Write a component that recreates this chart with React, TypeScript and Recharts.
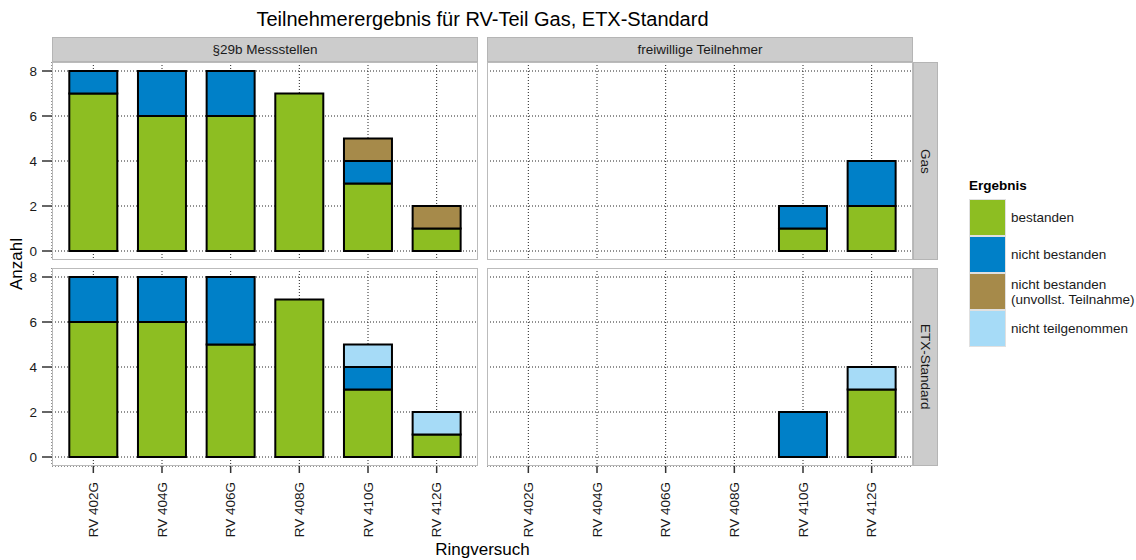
import { Bar, BarChart, CartesianGrid, XAxis, YAxis } from "recharts";

const categories = ["RV 402G", "RV 404G", "RV 406G", "RV 408G", "RV 410G", "RV 412G"];
const yTicks = [0, 2, 4, 6, 8];

// Gas, §29b Messstellen
const gasPflichtBestanden = [7, 6, 6, 7, 3, 1];
const gasPflichtNichtBestanden = [1, 2, 2, 0, 1, 0];
const gasPflichtUnvollst = [0, 0, 0, 0, 1, 1];
const gasPflichtNichtTeil = [0, 0, 0, 0, 0, 0];

// Gas, freiwillige Teilnehmer
const gasFreiBestanden = [0, 0, 0, 0, 1, 2];
const gasFreiNichtBestanden = [0, 0, 0, 0, 1, 2];
const gasFreiUnvollst = [0, 0, 0, 0, 0, 0];
const gasFreiNichtTeil = [0, 0, 0, 0, 0, 0];

// ETX-Standard, §29b Messstellen
const etxPflichtBestanden = [6, 6, 5, 7, 3, 1];
const etxPflichtNichtBestanden = [2, 2, 3, 0, 1, 0];
const etxPflichtUnvollst = [0, 0, 0, 0, 0, 0];
const etxPflichtNichtTeil = [0, 0, 0, 0, 1, 1];

// ETX-Standard, freiwillige Teilnehmer
const etxFreiBestanden = [0, 0, 0, 0, 0, 3];
const etxFreiNichtBestanden = [0, 0, 0, 0, 2, 0];
const etxFreiUnvollst = [0, 0, 0, 0, 0, 0];
const etxFreiNichtTeil = [0, 0, 0, 0, 0, 1];

const series = [
  { key: "bestanden", label: "bestanden", color: "#8DBE22" },
  { key: "nichtBestanden", label: "nicht bestanden", color: "#0080C8" },
  { key: "unvollst", label: "nicht bestanden\n(unvollst. Teilnahme)", color: "#A68A4A" },
  { key: "nichtTeil", label: "nicht teilgenommen", color: "#A6DBF7" },
];

const build = (a: number[], b: number[], c: number[], d: number[]) =>
  categories.map((name, i) => ({
    name,
    bestanden: a[i],
    nichtBestanden: b[i],
    unvollst: c[i],
    nichtTeil: d[i],
  }));

const FONT = "'Liberation Sans', Arial, Helvetica, sans-serif";
const PANEL_W = 426;
const PANEL_H = 198;
const COL_X = [52, 487];
const ROW_Y = [62, 268];
const Y_AXIS_W = 52;
const X_AXIS_H = 90;

const XTick = (props: any) => {
  const { x, y, payload } = props;
  return (
    <text
      x={x}
      y={y}
      transform={`rotate(-90, ${x}, ${y})`}
      textAnchor="end"
      dy="0.35em"
      fontSize={13.5}
      fill="#1a1a1a"
      fontFamily={FONT}
    >
      {payload.value}
    </text>
  );
};

type PanelProps = {
  data: ReturnType<typeof build>;
  col: number;
  row: number;
};

const Panel = ({ data, col, row }: PanelProps) => {
  const showY = col === 0;
  const showX = row === 1;
  const left = showY ? COL_X[0] - Y_AXIS_W : COL_X[1];
  const width = PANEL_W + (showY ? Y_AXIS_W : 0);
  const height = PANEL_H + (showX ? X_AXIS_H : 0);
  return (
    <div style={{ position: "absolute", left, top: ROW_Y[row] }}>
      <BarChart
        width={width}
        height={height}
        data={data}
        margin={{ top: 0, right: 0, bottom: 0, left: 0 }}
        barCategoryGap="15%"
      >
        <CartesianGrid stroke="#222" strokeDasharray="1 2" strokeWidth={1} />
        <XAxis
          dataKey="name"
          hide={!showX}
          height={showX ? X_AXIS_H : 0}
          padding={{ left: 7, right: 7 }}
          axisLine={false}
          tickLine={{ stroke: "#333", strokeWidth: 1.5 }}
          tickSize={7}
          tickMargin={9}
          tick={<XTick />}
          interval={0}
        />
        <YAxis
          hide={!showY}
          width={Y_AXIS_W}
          type="number"
          domain={[-0.4, 8.4]}
          ticks={yTicks}
          allowDataOverflow
          axisLine={false}
          tickLine={{ stroke: "#333", strokeWidth: 1.5 }}
          tickSize={10}
          tickMargin={5}
          tick={{ fontSize: 13.5, fill: "#1a1a1a", fontFamily: FONT }}
        />
        {series.map((s) => (
          <Bar
            key={s.key}
            dataKey={s.key}
            stackId="a"
            fill={s.color}
            stroke="#000"
            strokeWidth={2}
            isAnimationActive={false}
          />
        ))}
      </BarChart>
      <div
        style={{
          position: "absolute",
          left: showY ? Y_AXIS_W : 0,
          top: 0,
          width: PANEL_W,
          height: PANEL_H,
          border: "1.5px solid #bbb",
          boxSizing: "border-box",
          pointerEvents: "none",
        }}
      />
    </div>
  );
};

const stripStyle: React.CSSProperties = {
  position: "absolute",
  background: "#CCCCCC",
  border: "1px solid #b5b5b5",
  boxSizing: "border-box",
  display: "flex",
  alignItems: "center",
  justifyContent: "center",
  fontSize: 13.5,
  color: "#1a1a1a",
  fontFamily: FONT,
};

export default function App() {
  const panels = [
    { data: build(gasPflichtBestanden, gasPflichtNichtBestanden, gasPflichtUnvollst, gasPflichtNichtTeil), col: 0, row: 0 },
    { data: build(gasFreiBestanden, gasFreiNichtBestanden, gasFreiUnvollst, gasFreiNichtTeil), col: 1, row: 0 },
    { data: build(etxPflichtBestanden, etxPflichtNichtBestanden, etxPflichtUnvollst, etxPflichtNichtTeil), col: 0, row: 1 },
    { data: build(etxFreiBestanden, etxFreiNichtBestanden, etxFreiUnvollst, etxFreiNichtTeil), col: 1, row: 1 },
  ];
  const colTitles = ["§29b Messstellen", "freiwillige Teilnehmer"];
  const rowTitles = ["Gas", "ETX-Standard"];

  return (
    <div
      style={{
        position: "absolute",
        left: 0,
        top: 0,
        width: 1136,
        height: 560,
        background: "#fff",
        fontFamily: FONT,
        overflow: "hidden",
      }}
    >
      <div
        style={{
          position: "absolute",
          left: 52,
          width: 861,
          top: 8,
          textAlign: "center",
          fontSize: 20,
          color: "#000",
        }}
      >
        Teilnehmerergebnis für RV-Teil Gas, ETX-Standard
      </div>

      {colTitles.map((t, i) => (
        <div key={t} style={{ ...stripStyle, left: COL_X[i], top: 37, width: PANEL_W, height: 25 }}>
          {t}
        </div>
      ))}
      {rowTitles.map((t, i) => (
        <div
          key={t}
          style={{
            ...stripStyle,
            left: COL_X[1] + PANEL_W,
            top: ROW_Y[i],
            width: 25,
            height: PANEL_H,
            writingMode: "vertical-rl",
          }}
        >
          {t}
        </div>
      ))}

      {panels.map((p, i) => (
        <Panel key={i} data={p.data} col={p.col} row={p.row} />
      ))}

      <div
        style={{
          position: "absolute",
          left: 7,
          top: ROW_Y[0],
          height: ROW_Y[1] + PANEL_H - ROW_Y[0],
          width: 20,
          display: "flex",
          alignItems: "center",
          justifyContent: "center",
          writingMode: "vertical-rl",
          transform: "rotate(180deg)",
          fontSize: 17,
          color: "#000",
        }}
      >
        Anzahl
      </div>
      <div
        style={{
          position: "absolute",
          left: 52,
          width: 861,
          top: 540,
          textAlign: "center",
          fontSize: 17,
          color: "#000",
        }}
      >
        Ringversuch
      </div>

      <div style={{ position: "absolute", left: 969, top: 178, fontSize: 13.5, fontWeight: "bold", color: "#000" }}>
        Ergebnis
      </div>
      {series.map((s, i) => (
        <div key={s.key} style={{ position: "absolute", left: 969, top: 199 + i * 37, display: "flex", alignItems: "center" }}>
          <div
            style={{
              width: 37,
              height: 37,
              background: s.color,
              border: "1px solid #e0e0e0",
              boxSizing: "border-box",
            }}
          />
          <div style={{ marginLeft: 5, fontSize: 13.5, color: "#1a1a1a", whiteSpace: "pre", lineHeight: "15px" }}>
            {s.label}
          </div>
        </div>
      ))}
    </div>
  );
}
